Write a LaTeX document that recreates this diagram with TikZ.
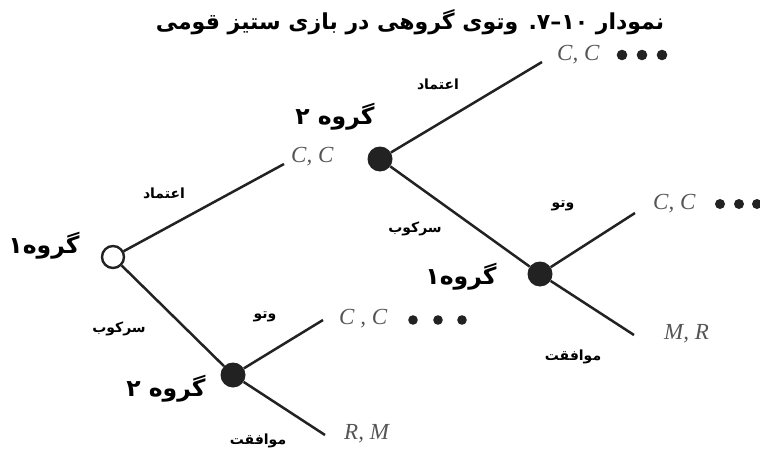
\documentclass[tikz,border=0pt]{standalone}
\usepackage{fontspec}
\setmainfont{Liberation Serif}
\newfontfamily\fa[Script=Arabic]{DejaVu Sans}
\TeXXeTstate=1
\definecolor{ink}{HTML}{222222}
\definecolor{payoffgray}{HTML}{555555}
\begin{document}
\begin{tikzpicture}[x=1pt,y=-1pt,
  branch/.style={draw=ink,line width=2.5pt},
  openstate/.style={circle,draw=ink,line width=2.4pt,fill=white,minimum size=22pt,inner sep=0pt},
  closedstate/.style={circle,fill=ink,minimum size=25pt,inner sep=0pt},
  grp/.style={font=\fa\bfseries\fontsize{23.5}{26}\selectfont,inner sep=0pt},
  act/.style={font=\fa\bfseries\fontsize{14}{16}\selectfont,inner sep=0pt},
  payoff/.style={font=\itshape\fontsize{23}{26}\selectfont,text=payoffgray,anchor=west,inner sep=0pt},
  bead/.style={fill=ink}]
\useasboundingbox (0,0) rectangle (760,452);

% title
\node[font=\fa\bfseries\fontsize{22}{25}\selectfont,inner sep=0pt] (title) at (410,22)
  {\beginR نمودار \beginL۱۰\endL–۷. وتوی گروهی در بازی ستیز قومی\endR};

% decision points
\node[openstate]   (g1)  at (113,257) {};
\node[closedstate] (g2a) at (380,159) {};
\node[closedstate] (g1b) at (540,274) {};
\node[closedstate] (g2b) at (233,375) {};

% free ends of the branches
\coordinate (e1) at (284,164);
\coordinate (e2) at (542,62);
\coordinate (e3) at (635,213);
\coordinate (e4) at (634,335);
\coordinate (e5) at (323,320);
\coordinate (e6) at (325,435);

% branches
\draw[branch] (g1) -- (e1);
\draw[branch] (g1) -- (g2b);
\draw[branch] (g2a) -- (e2);
\draw[branch] (g2a) -- (g1b);
\draw[branch] (g1b) -- (e3);
\draw[branch] (g1b) -- (e4);
\draw[branch] (g2b) -- (e5);
\draw[branch] (g2b) -- (e6);

% outcomes
\node[payoff] (o1) at (291,157) {C, C};
\node[payoff] (o2) at (557,55) {C, C};
\node[payoff] (o3) at (653,204) {C, C};
\node[payoff] (o4) at (664,334) {M, R};
\node[payoff] (o5) at (339,319) {C , C};
\node[payoff] (o6) at (344,434) {R, M};

% continuation dots
\foreach \x in {622,642,662} \fill[bead] (\x,55) circle (5.3);
\foreach \x in {720,739,757} \fill[bead] (\x,204) circle (5);
\foreach \x in {413,438,462} \fill[bead] (\x,320) circle (4.8);

% players
\node[grp] (p1) at (44,246) {\beginR گروه۱\endR};
\node[grp] (p2) at (335,117) {\beginR گروه ۲\endR};
\node[grp] (p3) at (461,277) {\beginR گروه۱\endR};
\node[grp] (p4) at (166,389) {\beginR گروه ۲\endR};

% actions
\node[act] (a1) at (164,193) {\beginR اعتماد\endR};
\node[act] (a2) at (119,329) {\beginR سرکوب\endR};
\node[act] (a3) at (265,317) {\beginR وتو\endR};
\node[act] (a4) at (258,441) {\beginR موافقت\endR};
\node[act] (a5) at (438,84) {\beginR اعتماد\endR};
\node[act] (a6) at (415,229) {\beginR سرکوب\endR};
\node[act] (a7) at (563,206) {\beginR وتو\endR};
\node[act] (a8) at (573,357) {\beginR موافقت\endR};
\end{tikzpicture}
\end{document}
